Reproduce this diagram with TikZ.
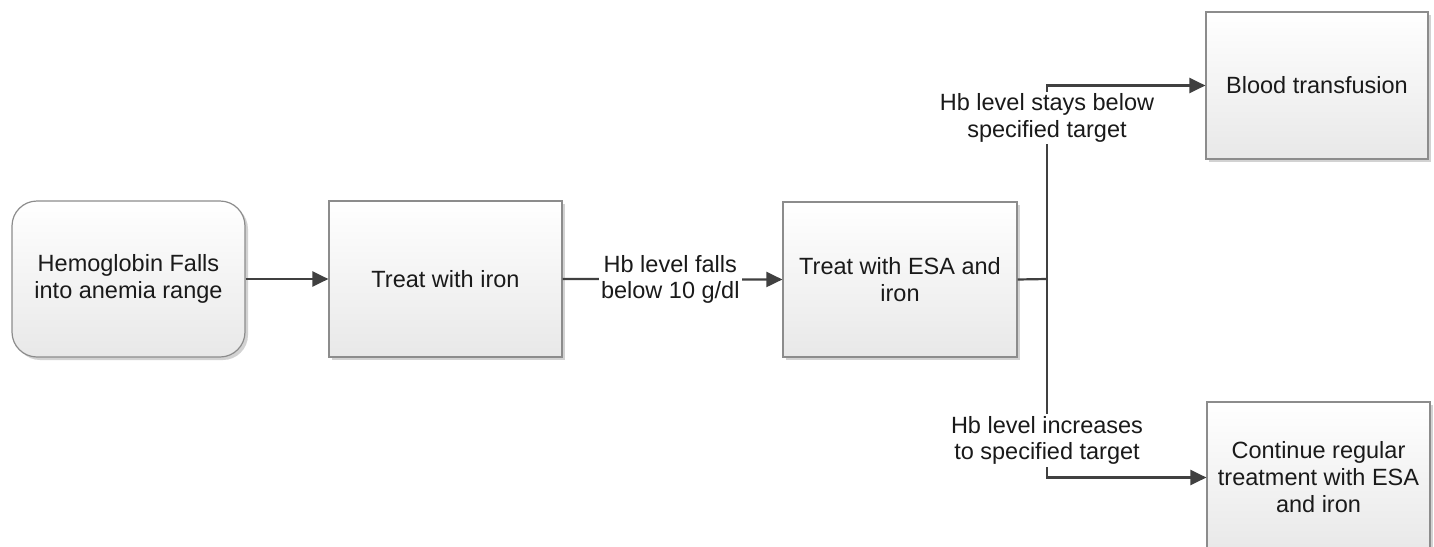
\documentclass[tikz,border=0pt]{standalone}
\usepackage{fontspec}
\setmainfont{Liberation Sans}
\usetikzlibrary{arrows.meta,shadows}
\definecolor{linec}{HTML}{404040}
\definecolor{boxline}{HTML}{8C8C8C}
\definecolor{txt}{HTML}{1A1A1A}
\tikzset{
  boxstyle/.style={draw=boxline, line width=1.2pt, top color=white, bottom color=black!9,
    align=center, text=txt, inner sep=0pt,
    font=\fontsize{23.5}{27}\selectfont,
    drop shadow={shadow xshift=3pt, shadow yshift=-3pt, fill=black!35, opacity=0.5}},
  arr/.style={draw=linec, line width=2.2pt, -{Triangle[length=16pt,width=15pt]}},
  conn/.style={draw=linec, line width=2.2pt},
  lbl/.style={fill=white, align=center, text=txt, inner sep=2pt,
    font=\fontsize{23.5}{26.5}\selectfont}
}
\begin{document}
\begin{tikzpicture}[x=1pt,y=-1pt]
\begin{scope}
\clip (0,0) rectangle (1434,546);
\useasboundingbox (0,0) rectangle (1434,546);
\node[boxstyle, rounded corners=25pt, minimum width=233pt, minimum height=156pt] (b1) at (128.5,279) {Hemoglobin Falls\\into anemia range};
\node[boxstyle, minimum width=233pt, minimum height=156pt] (b2) at (445.5,279) {Treat with iron};
\node[boxstyle, minimum width=234pt, minimum height=155pt] (b3) at (900,279.5) {Treat with ESA and\\iron};
\node[boxstyle, minimum width=222pt, minimum height=147pt] (b4) at (1317,85.5) {Blood transfusion};
\node[boxstyle, minimum width=223pt, minimum height=151pt] (b5) at (1318.5,477.5) {Continue regular\\treatment with ESA\\and iron};
\coordinate (j) at (1047,279);
\draw[arr] (b1.east) -- (b2.west);
\draw[arr] (b2.east) -- node[lbl, pos=0.49] {Hb level falls\\below 10 g/dl} (b3.west);
\draw[conn] (b3.east) -- (j);
\draw[arr] (j) |- node[lbl, pos=0.416] {Hb level stays below\\specified target} (b4.west);
\draw[arr] (j) |- node[lbl, pos=0.407] {Hb level increases\\to specified target} (b5.west);
\end{scope}
\end{tikzpicture}
\end{document}
